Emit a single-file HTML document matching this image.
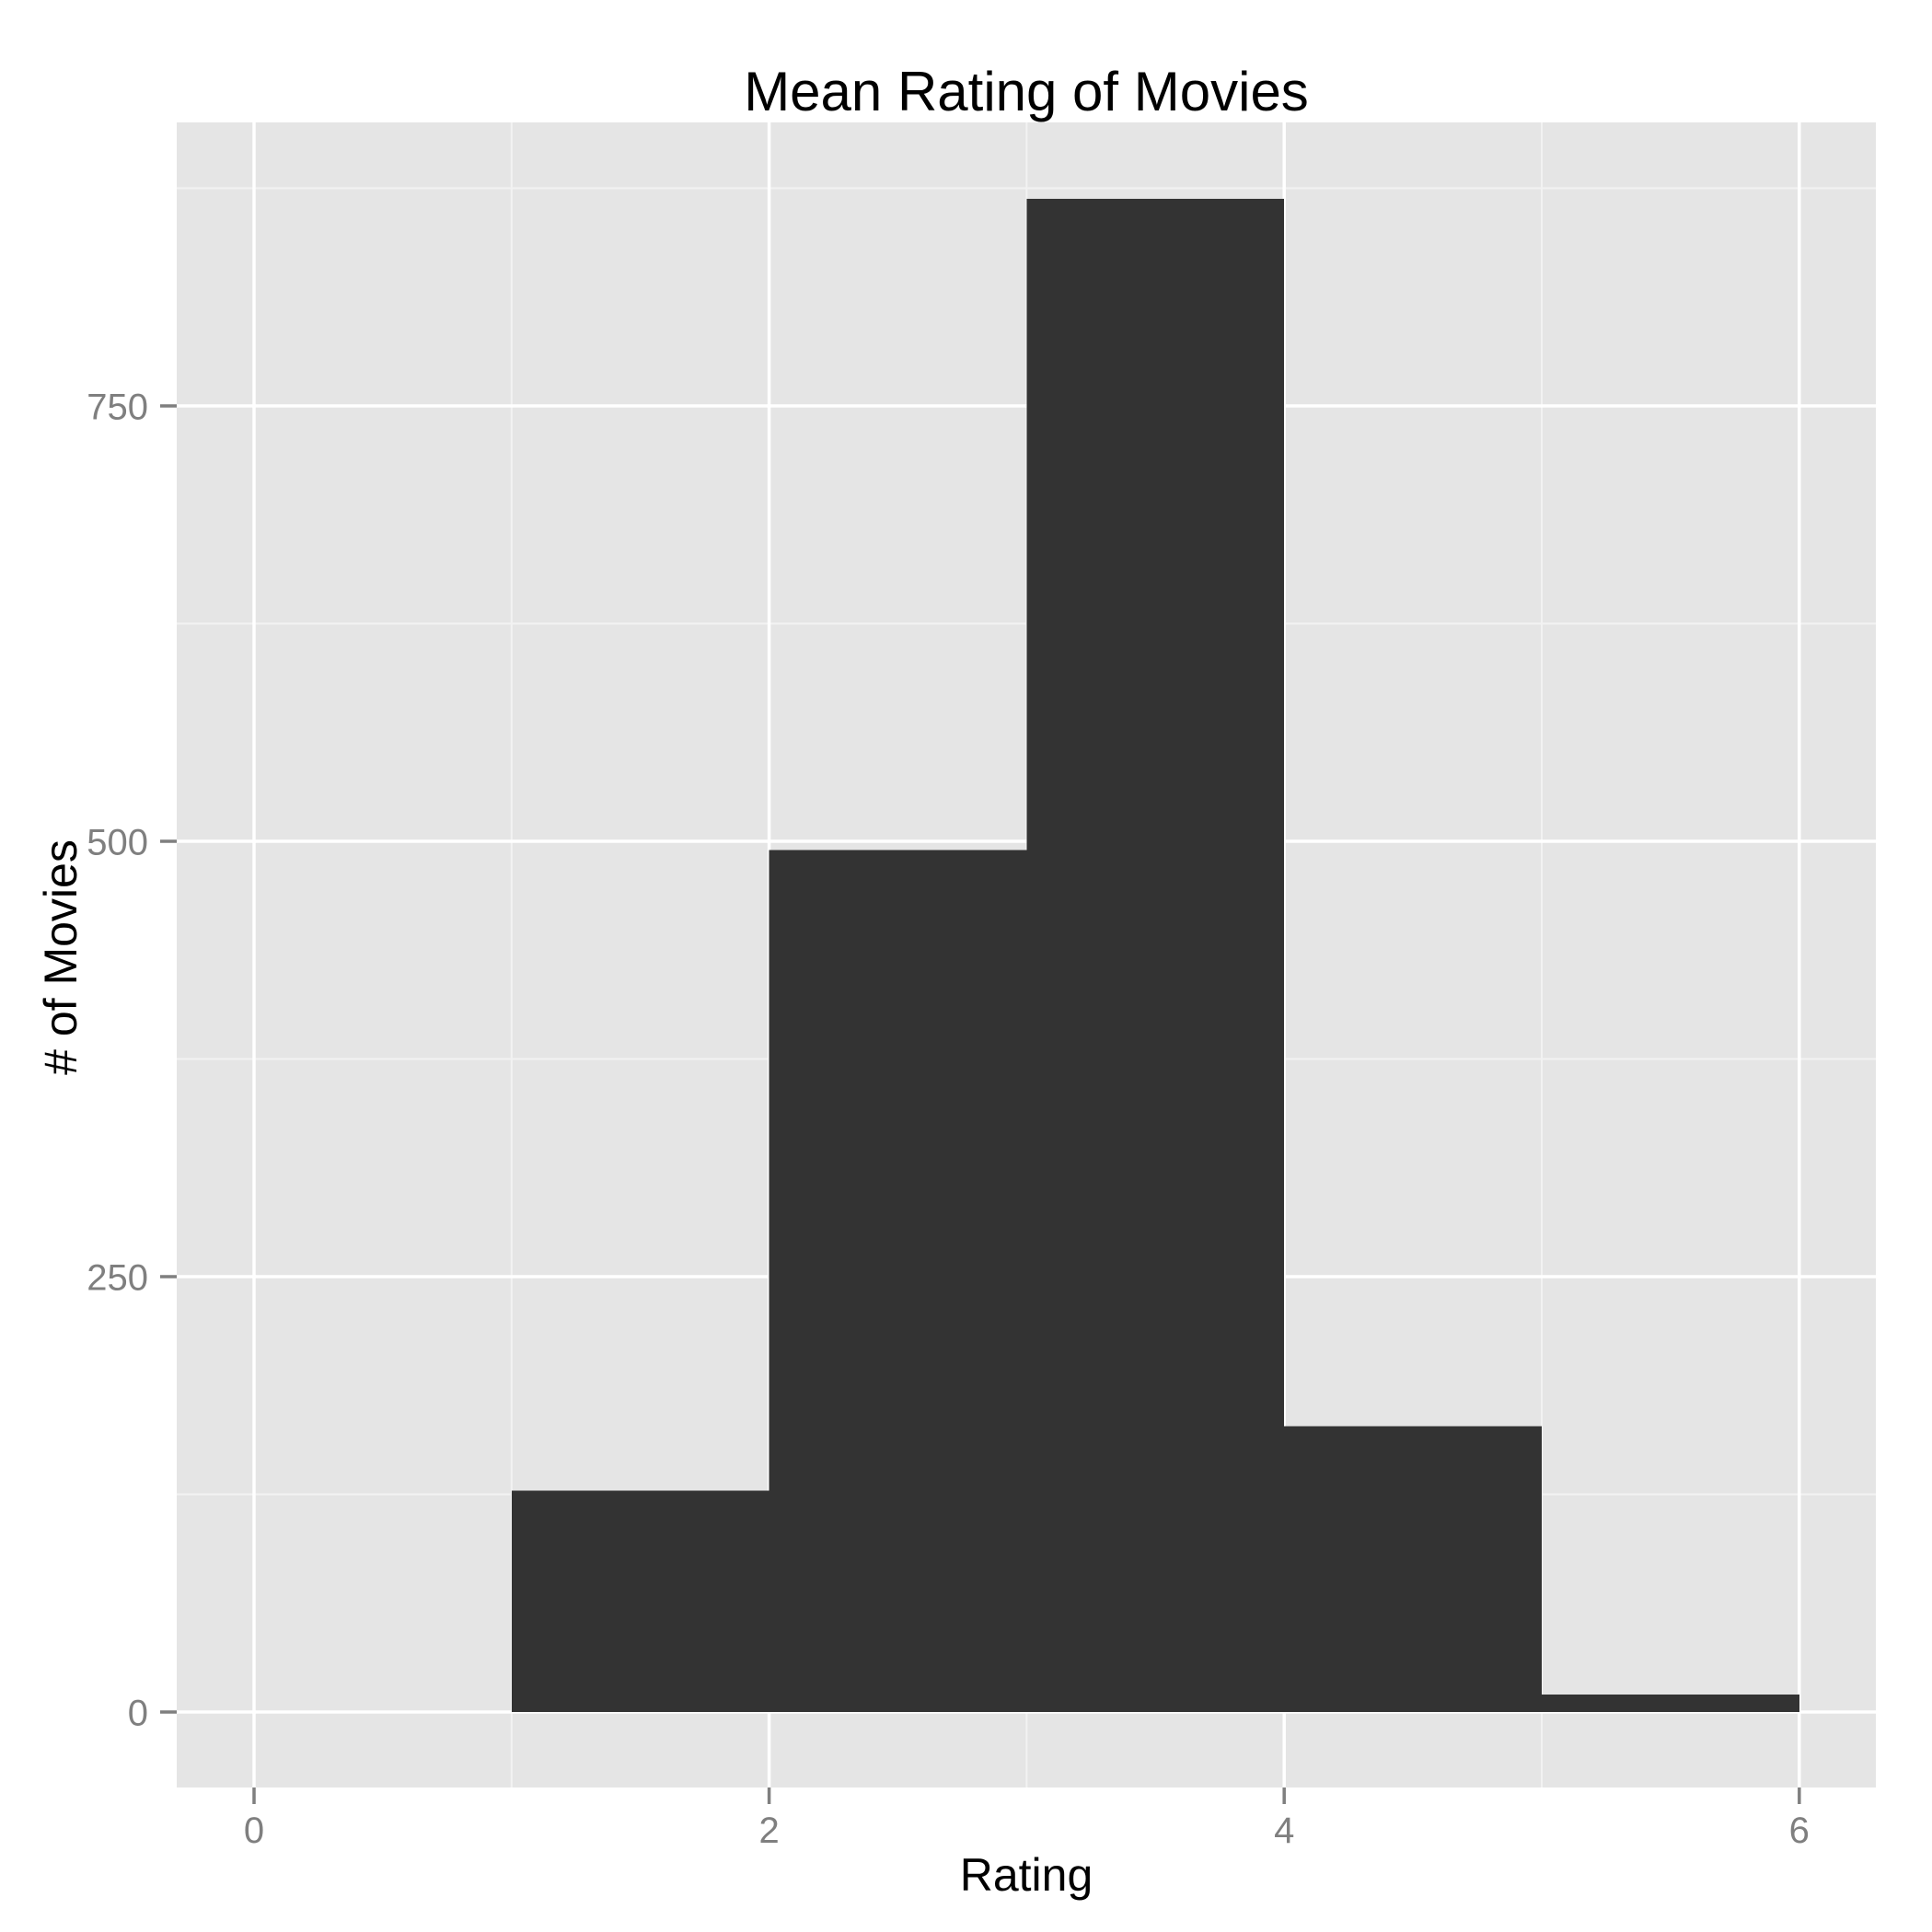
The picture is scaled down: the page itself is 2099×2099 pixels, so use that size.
<!DOCTYPE html>
<html>
<head>
<meta charset="utf-8">
<style>
  html, body { margin: 0; padding: 0; background: #ffffff; }
  svg { display: block; }
  text { font-family: "Liberation Sans", Arial, sans-serif; }
</style>
</head>
<body>
<svg id="chart" xmlns="http://www.w3.org/2000/svg" width="2099" height="2099" viewBox="0 0 2099 2099">
  <rect x="0" y="0" width="2099" height="2099" fill="#ffffff"/>
  <rect x="192" y="133" width="1846" height="1809" fill="#e5e5e5"/>
  <g id="grid-minor"></g>
  <g id="grid-major"></g>
  <g id="bars" shape-rendering="crispEdges"></g>
  <g id="y-axis"></g>
  <g id="x-axis"></g>
  <text x="1115" y="120" font-size="60" text-anchor="middle" fill="#000">Mean Rating of Movies</text>
  <text x="1115" y="2054" font-size="50" text-anchor="middle" fill="#000">Rating</text>
  <text x="83" y="1040" font-size="50" text-anchor="middle" fill="#000" transform="rotate(-90 83 1040)"># of Movies</text>
</svg>
<script>
const binStarts = [1, 2, 3, 4, 5];
const binEnds = [2, 3, 4, 5, 6];
const counts = [127, 495, 869, 164, 10];
const xTicks = [0, 2, 4, 6];
const xTickLabels = ["0", "2", "4", "6"];
const xMinor = [1, 3, 5];
const yTicks = [0, 250, 500, 750];
const yTickLabels = ["0", "250", "500", "750"];
const yMinor = [125, 375, 625, 875];

const NS = "http://www.w3.org/2000/svg";
const panel = { left: 192, right: 2038, top: 133, bottom: 1942 };
function xScale(v) { return 276 + v * 279.8; }
function yScale(v) { return 1860 - v * 1.892; }
function mk(tag, attrs, parent) {
  const el = document.createElementNS(NS, tag);
  for (const k in attrs) el.setAttribute(k, attrs[k]);
  parent.appendChild(el);
  return el;
}

const gMinor = document.getElementById("grid-minor");
const gMajor = document.getElementById("grid-major");
const gBars = document.getElementById("bars");
const gY = document.getElementById("y-axis");
const gX = document.getElementById("x-axis");

xMinor.forEach(function (v) {
  const l = mk("line", { x1: xScale(v), x2: xScale(v), y1: panel.top, y2: panel.bottom, stroke: "#f2f2f2", "stroke-width": 2 }, gMinor);
  
  
});
yMinor.forEach(function (v) {
  const l = mk("line", { x1: panel.left, x2: panel.right, y1: yScale(v), y2: yScale(v), stroke: "#f2f2f2", "stroke-width": 2 }, gMinor);
  
  
});
xTicks.forEach(function (v, i) {
  const x = xScale(v);
  const l = mk("line", { x1: x, x2: x, y1: panel.top, y2: panel.bottom, stroke: "#ffffff", "stroke-width": 3.5 }, gMajor);
  
  
  const t = mk("line", { x1: x, x2: x, y1: panel.bottom, y2: panel.bottom + 18, stroke: "#7f7f7f", "stroke-width": 3.5 }, gX);
  
  
  const lab = mk("text", { x: x, y: 2002, "font-size": 40, "text-anchor": "middle", fill: "#7f7f7f" }, gX);
  lab.textContent = xTickLabels[i];
  
  
});
yTicks.forEach(function (v, i) {
  const y = yScale(v);
  const l = mk("line", { x1: panel.left, x2: panel.right, y1: y, y2: y, stroke: "#ffffff", "stroke-width": 3.5 }, gMajor);
  
  
  const t = mk("line", { x1: panel.left - 18, x2: panel.left, y1: y, y2: y, stroke: "#7f7f7f", "stroke-width": 3.5 }, gY);
  
  
  const lab = mk("text", { x: 161, y: y + 14.5, "font-size": 40, "text-anchor": "end", fill: "#7f7f7f" }, gY);
  lab.textContent = yTickLabels[i];
  
  
});
counts.forEach(function (c, i) {
  const x0 = xScale(binStarts[i]);
  const x1 = xScale(binEnds[i]);
  const r = mk("rect", { x: x0, y: yScale(c), width: x1 - x0, height: yScale(0) - yScale(c), fill: "#333333" }, gBars);
  
  
});
</script>
</body>
</html>
